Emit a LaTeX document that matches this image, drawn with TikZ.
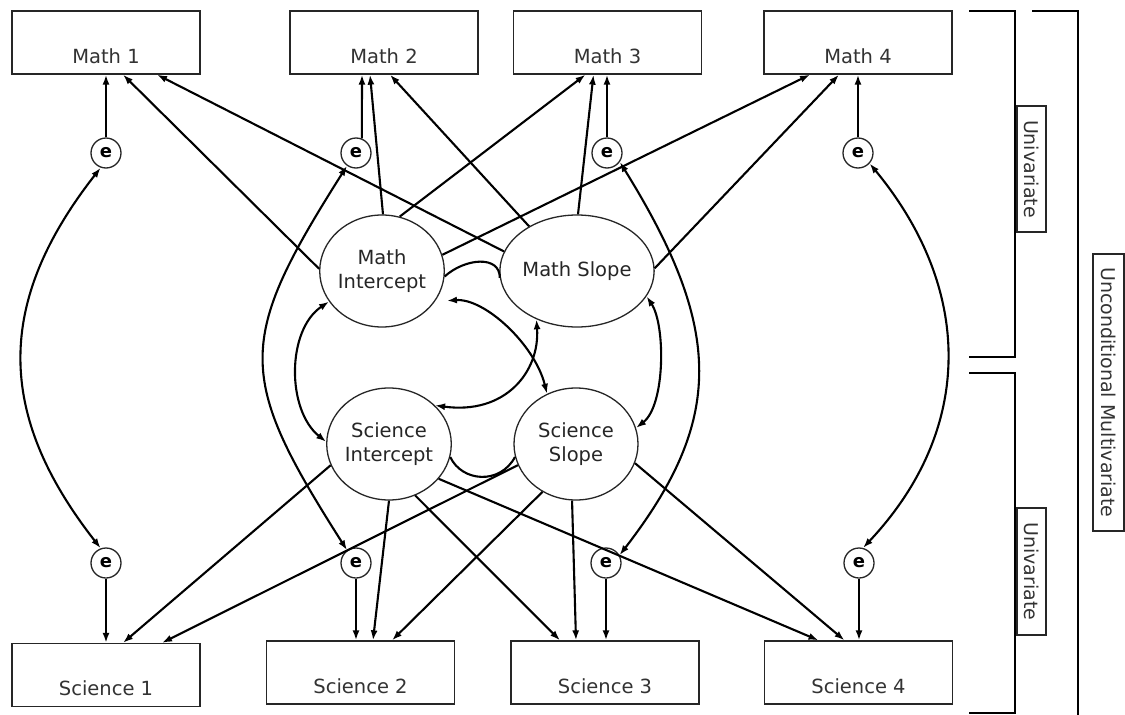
\documentclass[tikz,border=0pt]{standalone}
\usepackage{fontspec}
\setmainfont{DejaVu Sans}
\usetikzlibrary{arrows.meta,shapes.geometric,calc}
\begin{document}
\begin{tikzpicture}[x=1pt,y=-1pt,
  box/.style={draw=black!85,line width=1.3pt,rectangle,minimum width=188pt,inner xsep=0pt,inner ysep=0pt,text height=52pt,text depth=11pt,font=\fontsize{19.5}{23}\selectfont,text=black!80},
  lat/.style={draw=black!85,fill=white,line width=1.3pt,ellipse,minimum width=124pt,minimum height=112pt,inner sep=0pt,align=center,font=\fontsize{19.5}{24}\selectfont,text=black!85},
  err/.style={draw=black!85,fill=white,line width=1.3pt,circle,minimum size=30pt,inner sep=0pt,font=\fontsize{18}{18}\selectfont\bfseries},
  arr/.style={line width=2.1pt,-{Latex[length=10pt,width=7pt]}},
  dbl/.style={line width=2.1pt,{Latex[length=10pt,width=7pt]}-{Latex[length=10pt,width=7pt]}},
  cov/.style={line width=2.1pt},
  brk/.style={line width=2.6pt},
  tag/.style={draw=black!85,line width=1.1pt,rectangle,inner sep=0pt,font=\fontsize{19}{19}\selectfont,text=black!80,rotate=-90}
]
\useasboundingbox (0,0) rectangle (1125,715);
\fill[white] (0,0) rectangle (1125,715);

% observed variables
\node[box] (M1) at (106,42.5) {Math 1};
\node[box] (M2) at (384,42.5) {Math 2};
\node[box] (M3) at (607.5,42.5) {Math 3};
\node[box] (M4) at (858,42.5) {Math 4};
\node[box] (S1) at (106,675) {Science 1};
\node[box] (S2) at (360.5,672.5) {Science 2};
\node[box] (S3) at (605,672.5) {Science 3};
\node[box] (S4) at (858.5,672.5) {Science 4};

% latent variables
\node[lat] (MI) at (382,271) {Math\\Intercept};
\node[lat] (MS) at (577,271) {Math Slope};
\node[lat] (SI) at (389,444) {Science\\Intercept};
\node[lat] (SS) at (576,444) {Science\\Slope};

% errors
\node[err] (e1) at (106,153) {e};
\node[err] (e2) at (356,153) {e};
\node[err] (e3) at (607,153) {e};
\node[err] (e4) at (858,153) {e};
\node[err] (e1b) at (106,563) {e};
\node[err] (e2b) at (356,563) {e};
\node[err] (e3b) at (606,563) {e};
\node[err] (e4b) at (859,563) {e};

% error paths
\draw[arr] (e1) -- (e1 |- M1.south);
\draw[arr] (e2.68) -- ([xshift=-22pt]M2.south);
\draw[arr] (e3) -- (e3 |- M3.south);
\draw[arr] (e4) -- (e4 |- M4.south);
\draw[arr] (e1b) -- (e1b |- S1.north);
\draw[arr] (e2b) -- (e2b |- S2.north);
\draw[arr] (e3b) -- (e3b |- S3.north);
\draw[arr] (e4b) -- (e4b |- S4.north);

% loadings
\draw[arr] (MI.178) -- ([xshift=17pt]M1.south);
\draw[arr] (MI.89) -- ([xshift=-14pt]M2.south);
\draw[arr] (MI.72) -- ([xshift=-22pt]M3.south);
\draw[arr] (MI.15) -- ([xshift=-48pt]M4.south);
\draw[arr] (MS.165) -- ([xshift=51pt]M1.south);
\draw[arr] (MS.137) -- ([xshift=6pt]M2.south);
\draw[arr] (MS.89) -- ([xshift=-14pt]M3.south);
\draw[arr] (MS.2) -- ([xshift=-19pt]M4.south);
\draw[arr] (SI.200) -- ([xshift=17pt]S1.north);
\draw[arr] (SI.270) -- ([xshift=12.5pt]S2.north);
\draw[arr] (SI.297) -- ([xshift=-45pt]S3.north);
\draw[arr] (SI.325) -- ([xshift=-40pt]S4.north);
\draw[arr] (SS.200) -- ([xshift=56pt]S1.north);
\draw[arr] (SS.235) -- ([xshift=31.5pt]S2.north);
\draw[arr] (SS.266) -- ([xshift=-29pt]S3.north);
\draw[arr] (SS.342) -- ([xshift=-14pt]S4.north);

% error covariances
\draw[dbl] (e1.250) .. controls (-4.5,302) and (-4.5,414) .. (e1b.110);
\draw[dbl] (e2.235) .. controls (236,341) and (236,376) .. (e2b.125);
\draw[dbl] (e3.325) .. controls (724,330) and (724,420) .. (e3b.30);
\draw[dbl] (e4.318) .. controls (974,290) and (974,430) .. (e4b.75);

% latent covariances
\draw[dbl] (MI.210) .. controls (286.5,330) and (286.5,410) .. (SI.178);
\draw[dbl] (MS.340) .. controls (665.5,325) and (665.5,405) .. (SS.15);
\draw[dbl,shorten <=12pt] (MI.330) .. controls (485,298) and (535,345) .. (SS.120);
\draw[dbl] (MS.230) .. controls (540,372) and (505,415) .. (SI.40);
\draw[cov] (MI.-5) .. controls (465,258) and (500,255) .. (MS.185);
\draw[cov] (SI.-12) .. controls (462,482) and (500,485) .. (SS.192);

% brackets
\draw[brk] (969,11) -- (1015,11) -- (1015,357) -- (969,357);
\draw[brk] (969,373) -- (1015,373) -- (1015,713) -- (969,713);
\draw[brk] (1032,11) -- (1078,11) -- (1078,715);

\node[tag,minimum width=126pt,minimum height=29pt] (U1) at (1031.5,169) {Univariate};
\node[tag,minimum width=127pt,minimum height=29pt] (U2) at (1031.5,571.5) {Univariate};
\node[tag,minimum width=277pt,minimum height=31pt] (UM) at (1108.5,392.5) {Unconditional Multivariate};
\end{tikzpicture}
\end{document}
